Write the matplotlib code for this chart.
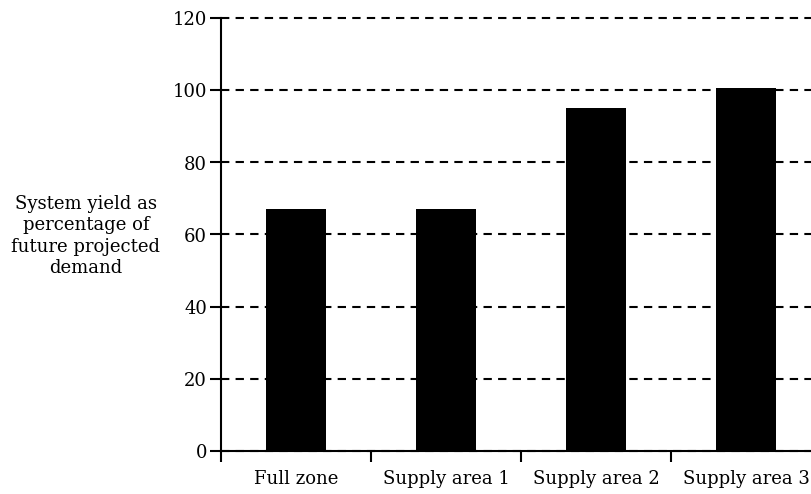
import numpy as np
from matplotlib import pyplot as plt
from matplotlib.ticker import FixedLocator

# Data
categories = ['Full zone', 'Supply area 1', 'Supply area 2', 'Supply area 3']
yield_pct = [67.2, 67.2, 95.0, 100.6]
yticks = [0, 20, 40, 60, 80, 100, 120]

plt.rcParams['font.family'] = ['DejaVu Serif']
plt.rcParams['font.size'] = 13

fig = plt.figure(figsize=(8.12, 4.94), dpi=100)
# axis runs off the right edge in the original
ax = fig.add_axes([221/812, 1 - 450.5/494, 600/812, 432/494])

x = np.arange(len(categories))
ax.bar(x, yield_pct, width=0.4, color='black', zorder=3)

ax.set_xlim(-0.5, len(categories) - 0.5)
ax.set_ylim(0, 120)
ax.set_yticks(yticks)
ax.yaxis.grid(True, linestyle=(0, (4, 3)), color='black', linewidth=1.5, zorder=1)
for gl in ax.get_ygridlines():
    gl.set_clip_on(False)

ax.set_xticks(x)
ax.set_xticklabels(categories)
ax.xaxis.set_minor_locator(FixedLocator(np.arange(-0.5, len(categories), 1.0)))
ax.tick_params(axis='x', which='major', length=0, pad=14)
ax.tick_params(axis='x', which='minor', length=8, width=1.5, direction='out')
ax.tick_params(axis='y', length=8, width=1.5, direction='out', pad=2)

for s in ['top', 'right']:
    ax.spines[s].set_visible(False)
for s in ['left', 'bottom']:
    ax.spines[s].set_linewidth(1.5)

fig.text(86/812, 1 - 236/494,
         'System yield as\npercentage of\nfuture projected\ndemand',
         ha='center', va='center', fontsize=13, linespacing=1.25)

fig.savefig('out.png', dpi=100)
